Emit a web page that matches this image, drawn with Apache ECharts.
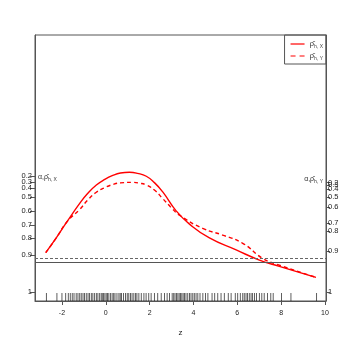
<!DOCTYPE html>
<html>
<head>
<meta charset="utf-8">
<script src="https://cdn.jsdelivr.net/npm/echarts@6/dist/echarts.min.js"></script>
<style>
  html, body { margin: 0; padding: 0; background: #fff; }
  #chart { width: 346px; height: 346px; }
</style>
</head>
<body>
<div id="chart"></div>
<script>
// curve values (vertical unit is arbitrary, 0 = bottom of box)
var rhoX = [[-2.74, 18.2], [-2.26, 23.7], [-1.77, 29.8], [-1.19, 36.7], [-0.83, 40.4], [-0.43, 43.6],
  [-0.05, 45.7], [0.32, 47.2], [0.67, 48.1], [1.08, 48.4], [1.45, 48.0], [1.85, 46.9],
  [2.22, 44.5], [2.60, 41.0], [3.21, 33.9], [3.82, 28.9], [4.73, 23.7], [5.95, 19.2],
  [7.01, 15.4], [7.92, 13.0], [9.59, 8.9]];
var rhoY = [[-2.74, 18.2], [-2.26, 23.7], [-1.77, 29.8], [-1.19, 34.4], [-0.83, 37.9], [-0.43, 40.9],
  [-0.05, 42.6], [0.32, 43.8], [0.67, 44.4], [1.23, 44.6], [1.54, 44.3], [1.85, 43.6],
  [2.22, 41.7], [2.60, 38.5], [3.00, 35.0], [3.36, 32.3], [4.42, 27.3], [5.33, 24.8],
  [6.25, 21.7], [7.16, 16.0], [7.77, 13.9], [9.59, 8.9]];
var levelX = 14.55;
var levelY = 15.9;

// rug of observed z values
var rugZ = [-2.71, -2.23, -2.00, -1.83, -1.71, -1.62, -1.53, -1.45, -1.35, -1.27, -1.19, -1.12,
  -1.04, -0.97, -0.89, -0.81, -0.74, -0.66, -0.59, -0.51, -0.43, -0.36, -0.28, -0.21, -0.16,
  -0.10, -0.04, 0.02, 0.08, 0.14, 0.22, 0.29, 0.36, 0.42, 0.51, 0.60, 0.66, 0.72, 0.81, 0.90,
  0.98, 1.05, 1.13, 1.20, 1.28, 1.36, 1.42, 1.51, 1.62, 1.74, 1.84, 1.96, 2.07, 2.22, 2.37,
  2.53, 2.68, 2.80, 2.91, 3.03, 3.10, 3.16, 3.23, 3.29, 3.35, 3.41, 3.47, 3.53, 3.59, 3.66,
  3.74, 3.82, 3.89, 3.97, 4.04, 4.12, 4.20, 4.30, 4.43, 4.55, 4.66, 4.85, 4.97, 5.11, 5.26,
  5.41, 5.59, 5.72, 5.91, 6.02, 6.14, 6.25, 6.32, 6.40, 6.47, 6.55, 6.63, 6.70, 6.79, 6.88,
  7.01, 7.12, 7.23, 7.38, 7.53, 7.64, 8.02, 8.45, 9.62];

// tick labels
var xTicks = [-2, 0, 2, 4, 6, 8, 10];
var alphaLabels = ['0.1', '0.2', '0.3', '0.4', '0.5', '0.6', '0.7', '0.8', '0.9', '1'];
var alphaPosX = [48.3, 47.0, 44.7, 42.5, 39.1, 33.8, 28.6, 23.7, 17.3, 3.4];
var alphaPosY = [45.3, 44.5, 43.6, 42.1, 39.1, 35.3, 29.3, 26.3, 18.8, 3.4];

var rugPts = rugZ.map(function (z) { return [z, 1.5]; });

function alphaFmt(pos) {
  return function (v) {
    for (var i = 0; i < pos.length; i++) {
      if (Math.abs(pos[i] - v) < 1e-6) return alphaLabels[i];
    }
    return '';
  };
}

var axisGrey = '#555';
var txt = '#222';
var fontFam = 'Liberation Sans, Arial, sans-serif';

var chart = echarts.init(document.getElementById('chart'), null, { renderer: 'canvas' });

function yAx(pos, side) {
  return {
    type: 'value', position: side, min: 0, max: 100,
    splitLine: { show: false },
    axisLine: { show: true, onZero: false, lineStyle: { color: axisGrey } },
    axisTick: { show: true, length: side === 'left' ? 5 : 4, customValues: pos, lineStyle: { color: axisGrey } },
    axisLabel: {
      customValues: pos, formatter: alphaFmt(pos), margin: side === 'left' ? 3 : 2,
      fontSize: 7.5, color: txt, fontFamily: fontFam
    }
  };
}

var option = {
  animation: false,
  grid: {
    left: 35, right: 20, top: 35, bottom: 45,
    show: true, borderColor: axisGrey, borderWidth: 1
  },
  legend: {
    right: 20, top: 35, orient: 'vertical',
    borderColor: axisGrey, borderWidth: 1, borderRadius: 0,
    padding: [5, 3, 3, 6], itemWidth: 14, itemHeight: 1.2, itemGap: 3,
    data: [
      { name: 'X', icon: 'rect' },
      { name: 'Y', icon: 'path://M0,0H5V1H0Z M9,0H14V1H9Z' }
    ],
    formatter: function (n) { return '{a|ρ̂}{b|h, ' + n + '}'; },
    textStyle: {
      color: '#444', fontFamily: fontFam,
      rich: { a: { fontSize: 8 }, b: { fontSize: 5, padding: [5, 0, 0, 0] } }
    }
  },
  xAxis: {
    type: 'value', min: -3.23, max: 10.05,
    name: 'z', nameLocation: 'middle', nameGap: 28,
    nameTextStyle: { fontSize: 8, color: txt, fontFamily: fontFam },
    splitLine: { show: false },
    axisLine: { show: true, onZero: false, lineStyle: { color: axisGrey } },
    axisTick: { show: true, length: 4, customValues: xTicks, lineStyle: { color: axisGrey } },
    axisLabel: { customValues: xTicks, fontSize: 7, color: txt, fontFamily: fontFam, margin: 9 }
  },
  yAxis: [yAx(alphaPosX, 'left'), yAx(alphaPosY, 'right')],
  graphic: [
    {
      type: 'text', left: 38, top: 174,
      style: {
        text: '{a|α,ρ̂}{b|h, X}',
        rich: { a: { fontSize: 7, fill: '#333', fontFamily: fontFam }, b: { fontSize: 5, fill: '#333', padding: [4, 0, 0, 0] } }
      }
    },
    {
      type: 'text', right: 23, top: 176,
      style: {
        text: '{a|α,ρ̂}{b|h, Y}',
        rich: { a: { fontSize: 7, fill: '#333', fontFamily: fontFam }, b: { fontSize: 5, fill: '#333', padding: [4, 0, 0, 0] } }
      }
    }
  ],
  series: [
    {
      name: 'X', type: 'line', data: rhoX, smooth: 0.5, symbol: 'none',
      lineStyle: { color: '#ff0000', width: 1.4 }, itemStyle: { color: '#ff0000' },
      markLine: {
        silent: true, symbol: 'none', label: { show: false },
        data: [{ yAxis: levelX, lineStyle: { color: axisGrey, type: 'solid', width: 1 } },
               { yAxis: levelY, lineStyle: { color: '#666', type: [3, 2], width: 1 } }]
      }
    },
    {
      name: 'Y', type: 'line', data: rhoY, smooth: 0.5, symbol: 'none',
      lineStyle: { color: '#ff0000', width: 1.4, type: [4, 3] }, itemStyle: { color: '#ff0000' }
    },
    {
      name: 'rug', type: 'scatter', data: rugPts, symbol: 'rect', symbolSize: [0.9, 8],
      itemStyle: { color: '#111', opacity: 0.75 }, silent: true
    }
  ]
};

chart.setOption(option);
</script>
</body>
</html>
